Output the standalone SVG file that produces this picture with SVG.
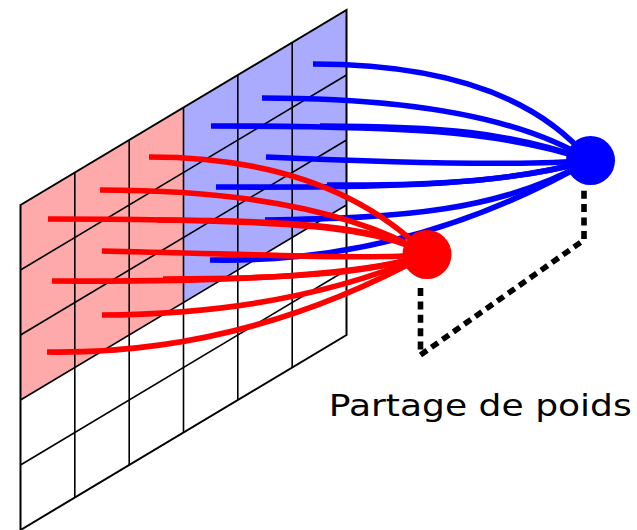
<svg xmlns="http://www.w3.org/2000/svg" width="637" height="530" viewBox="0 0 637 530">
<style>
.g{fill:none;stroke:#000;stroke-width:1.6}
.o{fill:none;stroke:#000;stroke-width:2;stroke-linejoin:miter}
.bl{fill:none;stroke:#0000ff;stroke-width:5.6}
.rl{fill:none;stroke:#ff0000;stroke-width:5.6}
.d{fill:none;stroke:#000;stroke-width:5.6;stroke-dasharray:8,5.4;stroke-linejoin:miter}
.t{font-family:"DejaVu Sans",sans-serif;font-size:31px;fill:#000}
</style>
<rect width="637" height="530" fill="#fff"/>
<g id="grid">
<polygon points="20.5,205 183.5,107.5 183.5,302.5 20.5,400" fill="#ffaaaa"/>
<polygon points="183.5,107.5 346.5,10 346.5,205 183.5,302.5" fill="#aaaaff"/>
<path class="g" d="M74.8,172.5V497.5M129.2,140V465M183.5,107.5V432.5M237.8,75V400M292.2,42.5V367.5"/>
<path class="g" d="M20.5,270L346.5,75M20.5,335L346.5,140M20.5,400L346.5,205M20.5,465L346.5,270"/>
<polygon class="o" points="20.5,205 346.5,10 346.5,335 20.5,530"/>
</g>
<g id="connectors">
<g id="blue-lines">
<path class="bl" d="M313,64Q510,64 590,160.5"/>
<path class="bl" d="M262,98Q490,98 590,160.5"/>
<path class="bl" d="M211,126C400,126 500,130 590,160.5"/>
<path class="bl" d="M320,126C440,126 510,132 590,160.5"/>
<path class="bl" d="M266,157C400,163 520,166 590,160.5"/>
<path class="bl" d="M216,187C400,188 510,184 590,160.5"/>
<path class="bl" d="M327,185C440,186 520,180 590,160.5"/>
<path class="bl" d="M265,220C400,218 500,212 590,160.5"/>
<path class="bl" d="M210,260Q410,264 590,160.5"/>
</g>
<g id="red-lines">
<path class="rl" d="M149,157Q330,157 427,254.5"/>
<path class="rl" d="M100,190Q318,190 427,254.5"/>
<path class="rl" d="M48,219C300,219 380,228 427,254.5"/>
<path class="rl" d="M157,220C320,220 385,230 427,254.5"/>
<path class="rl" d="M102,251C250,254 370,260 427,254.5"/>
<path class="rl" d="M52,281C250,282 370,274 427,254.5"/>
<path class="rl" d="M163,279C300,279 375,272 427,254.5"/>
<path class="rl" d="M102,315Q290,314 427,254.5"/>
<path class="rl" d="M47,352Q244,355 427,254.5"/>
</g>
<path id="share" class="d" d="M420.5,288V355L584,240V189"/>
</g>
<g id="node-blue"><circle cx="590.5" cy="160.5" r="24.5" fill="#0000ff"/></g>
<g id="node-red"><circle cx="427" cy="254.5" r="24.5" fill="#ff0000"/></g>
<g id="label"><text class="t" x="328.8" y="415.7" textLength="303" lengthAdjust="spacingAndGlyphs">Partage de poids</text></g>
</svg>
